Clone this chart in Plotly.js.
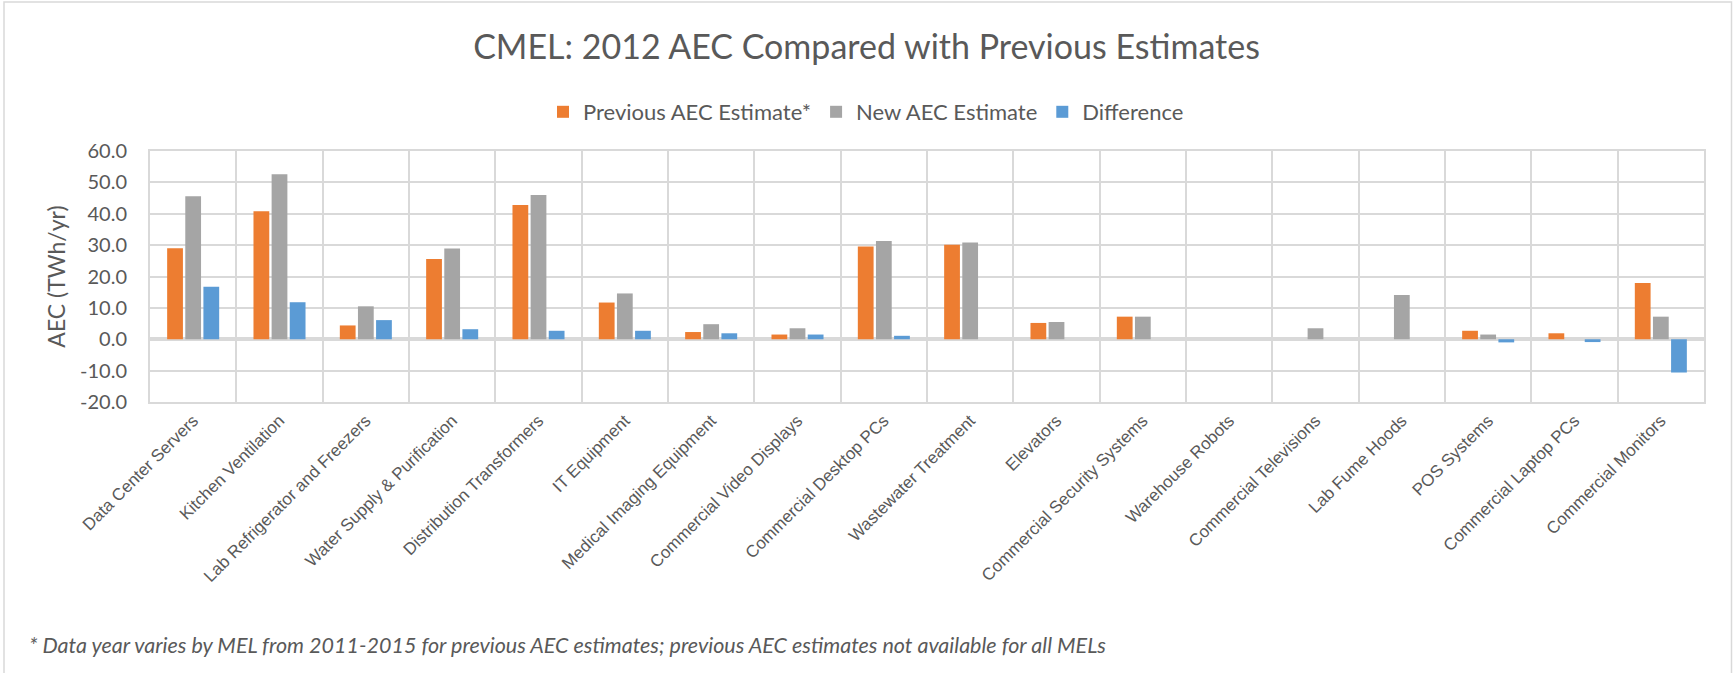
<!DOCTYPE html>
<html>
<head>
<meta charset="utf-8">
<script src="https://cdn.plot.ly/plotly-3.0.1.min.js"></script>
<style>
  html, body { margin: 0; padding: 0; background: #fff; }
  #chart { width: 1733px; height: 673px; }
</style>
</head>
<body>
<div id="chart"></div>
<script>
const categories = [
  "Data Center Servers", "Kitchen Ventilation", "Lab Refrigerator and Freezers",
  "Water Supply & Purification", "Distribution Transformers", "IT Equipment",
  "Medical Imaging Equipment", "Commercial Video Displays", "Commercial Desktop PCs",
  "Wastewater Treatment", "Elevators", "Commercial Security Systems",
  "Warehouse Robots", "Commercial Televisions", "Lab Fume Hoods",
  "POS Systems", "Commercial Laptop PCs", "Commercial Monitors"
];
const previousAEC = [29.0, 40.8, 4.4, 25.6, 42.8, 11.7, 2.3, 1.5, 29.6, 30.1, 5.2, 7.2, null, null, null, 2.7, 1.9, 17.9];
const newAEC      = [45.6, 52.6, 10.5, 28.9, 46.0, 14.6, 4.8, 3.5, 31.3, 30.8, 5.5, 7.2, null, 3.5, 14.1, 1.5, null, 7.2];
const differenceAEC = [16.7, 11.8, 6.1, 3.2, 2.7, 2.7, 1.9, 1.5, 1.1, null, null, null, null, null, null, -1.0, -0.9, -10.6];
const yTickVals = [-20, -10, 0, 10, 20, 30, 40, 50, 60];
const yTickText = ["-20.0", "-10.0", "0.0", "10.0", "20.0", "30.0", "40.0", "50.0", "60.0"];

const seriesNames = ["Previous AEC Estimate*", "New AEC Estimate", "Difference"];
const seriesColors = ["#ED7D31", "#A5A5A5", "#5B9BD5"];
const seriesValues = [previousAEC, newAEC, differenceAEC];

const traces = seriesValues.map((vals, i) => ({
  type: "bar",
  name: seriesNames[i],
  x: categories,
  y: vals,
  marker: { color: seriesColors[i], line: { width: 0 } },
  hoverinfo: "x+y+name"
}));

const W = 1733, H = 673;
const L = 150, R = 29, T = 151, B = 271;
const pw = W - L - R, ph = H - T - B;
const px = v => (v - L) / pw;
const py = v => (H - B - v) / ph;

const layout = {
  width: W, height: H,
  margin: { l: L, r: R, t: T, b: B, pad: 0 },
  paper_bgcolor: "#ffffff",
  plot_bgcolor: "#ffffff",
  font: { family: "Lato, 'Open Sans', sans-serif", color: "#595959" },
  title: {
    text: "CMEL: 2012 AEC Compared with Previous Estimates",
    font: { family: "Lato, sans-serif", size: 34, color: "#595959" },
    x: 0.5, xref: "container", xanchor: "center",
    y: 1 - 47.5 / H, yref: "container", yanchor: "middle"
  },
  barmode: "group",
  bargap: 0.37,
  bargroupgap: 0.13,
  showlegend: true,
  legend: {
    orientation: "h",
    x: px(866), xanchor: "center",
    y: py(112), yanchor: "middle",
    font: { family: "Lato, sans-serif", size: 22, color: "#595959" },
    traceorder: "normal",
    itemclick: false, itemdoubleclick: false
  },
  xaxis: {
    type: "category",
    tickangle: -45,
    tickson: "boundaries",
    ticks: "",
    showgrid: true,
    gridcolor: "#D9D9D9",
    gridwidth: 2,
    showline: true,
    linecolor: "#D9D9D9",
    linewidth: 2,
    mirror: true,
    tickfont: { family: "'Liberation Sans', Arial, sans-serif", size: 17, color: "#595959" },
    fixedrange: true
  },
  yaxis: {
    range: [-20, 60],
    tickvals: yTickVals,
    ticktext: yTickText,
    ticks: "",
    ticklabelstandoff: 17,
    showgrid: true,
    gridcolor: "#D9D9D9",
    gridwidth: 2,
    zeroline: true,
    zerolinecolor: "#D9D9D9",
    zerolinewidth: 4,
    showline: true,
    linecolor: "#D9D9D9",
    linewidth: 2,
    mirror: true,
    tickfont: { family: "Lato, sans-serif", size: 20, color: "#595959" },
    title: {
      text: "AEC (TWh/yr)",
      font: { family: "Lato, sans-serif", size: 23, color: "#595959" },
      standoff: 8
    },
    fixedrange: true
  },
  annotations: [{
    text: "* Data year varies by MEL from 2011-2015 for previous AEC estimates; previous AEC estimates not available for all MELs",
    xref: "paper", yref: "paper",
    x: px(27), xanchor: "left",
    y: py(645), yanchor: "middle",
    showarrow: false,
    font: { family: "Lato, sans-serif", size: 21.5, color: "#595959", style: "italic" }
  }],
  shapes: [{
    type: "rect", xref: "paper", yref: "paper",
    x0: px(4), x1: px(1731.5), y0: py(700), y1: py(2),
    line: { color: "#D9D9D9", width: 1.5 },
    fillcolor: "rgba(0,0,0,0)",
    layer: "below"
  }]
};

Plotly.newPlot("chart", traces, layout, { displayModeBar: false, staticPlot: true });
</script>
</body>
</html>
